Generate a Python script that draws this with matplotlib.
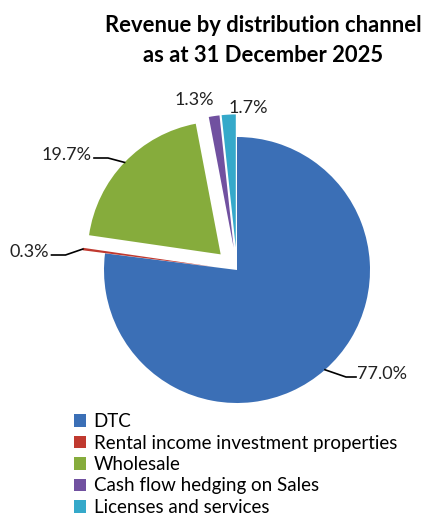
import numpy as np
import matplotlib.pyplot as plt

channels = ['DTC', 'Rental income investment properties', 'Wholesale',
            'Cash flow hedging on Sales', 'Licenses and services']
shares = [77.0, 0.3, 19.7, 1.3, 1.7]
colors = ['#3b6fb6', '#c0392f', '#86ac3c', '#7151a0', '#35a9ca']
explode_frac = [0.0, 0.17, 0.17, 0.17, 0.17]

plt.rcParams['font.family'] = ['Lato', 'DejaVu Sans']

W, H = 427, 517
fig = plt.figure(figsize=(W / 100, H / 100), dpi=100)
ax = fig.add_axes([0, 0, 1, 1])

cx, cy, r = 237, H - 270, 133
# pie's explode is an absolute offset in data units, so scale by radius
wedges, _ = ax.pie(shares, colors=colors, explode=[e * r for e in explode_frac],
                   startangle=90, counterclock=False, center=(cx, cy), radius=r,
                   frame=True, wedgeprops=dict(linewidth=0))
ax.set_xlim(0, W)
ax.set_ylim(0, H)
ax.set_aspect('equal')
ax.axis('off')

# label positions (x, y, alignment, draw leader line)
label_pos = {
    0: (357, H - 374, 'left', True),
    1: (10, H - 252, 'left', True),
    2: (42, H - 155, 'left', True),
    3: (194, H - 100, 'center', False),
    4: (248, H - 108, 'center', False),
}

fig.canvas.draw()
renderer = fig.canvas.get_renderer()
for i, w in enumerate(wedges):
    mid = np.deg2rad((w.theta1 + w.theta2) / 2)
    ox, oy = w.center
    edge = (ox + r * np.cos(mid), oy + r * np.sin(mid))
    tx, ty, ha, leader = label_pos[i]
    t = ax.text(tx, ty, f'{shares[i]:.1f}%', ha=ha, va='center',
                fontsize=13, color='#222222')
    if leader:
        bb = t.get_window_extent(renderer=renderer).transformed(ax.transData.inverted())
        if edge[0] < tx:
            end = (bb.x0 - 1, ty - 3)
            knee = (end[0] - 10, end[1])
        else:
            end = (bb.x1 + 2, ty - 3)
            knee = (end[0] + 14, end[1])
        ax.plot([edge[0], knee[0], end[0]], [edge[1], knee[1], end[1]],
                color='black', lw=1.2)

fig.text(263 / W, 1 - 25 / H, 'Revenue by distribution channel',
         ha='center', va='center', fontsize=15.8, fontweight='bold')
fig.text(263 / W, 1 - 56 / H, 'as at 31 December 2025',
         ha='center', va='center', fontsize=15.8, fontweight='bold')

fig.legend(wedges, channels, loc='upper left', bbox_to_anchor=(74 / W, 1 - 413 / H),
           frameon=False, fontsize=13.5, handlelength=0.65, handleheight=0.65,
           handletextpad=0.4, labelspacing=0.24, borderpad=0, borderaxespad=0)

fig.savefig('out.png', dpi=100)
